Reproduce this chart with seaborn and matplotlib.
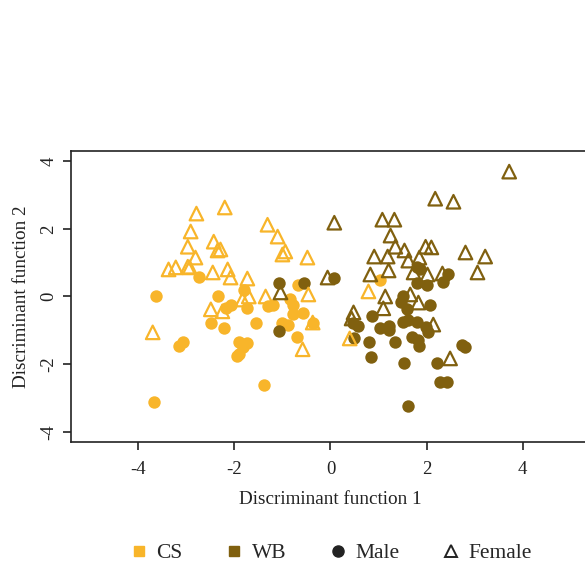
import matplotlib
matplotlib.use("Agg")
import matplotlib.pyplot as plt
from matplotlib.lines import Line2D
import seaborn as sns
import pandas as pd

# Discriminant scores
cs_male_x = [-2.74, -3.64, -2.35, -1.81, -2.08, -2.18, -1.73, -1.29, -1.19, -0.85,
             -0.79, -0.67, -0.58, -2.49, -2.22, -1.56, -1.00, -0.89, -0.77, -0.69,
             -0.37, -3.16, -3.06, -1.91, -1.73, -1.83, -1.91, -1.95, -1.39, -3.68, 1.04]
cs_male_y = [0.59, 0.0, 0.0, 0.18, -0.24, -0.35, -0.35, -0.29, -0.24, -0.06,
             -0.24, 0.35, -0.50, -0.77, -0.94, -0.77, -0.77, -0.83, -0.53, -1.21,
             -0.77, -1.47, -1.33, -1.33, -1.36, -1.50, -1.71, -1.77, -2.63, -3.13, 0.50]

cs_female_x = [-2.79, -2.20, -1.31, -2.91, -1.10, -2.43, -2.97, -2.35, -2.29, -2.81,
               -1.00, -0.94, -0.48, -3.37, -3.22, -2.97, -2.93, -2.45, -2.14, -2.08,
               -1.73, -1.83, -1.35, -0.46, -2.49, -2.25, -3.70, -0.58, -0.37, -1.70,
               0.79, 0.40]
cs_female_y = [2.45, 2.63, 2.12, 1.92, 1.77, 1.62, 1.47, 1.36, 1.39, 1.15,
               1.24, 1.33, 1.15, 0.80, 0.86, 0.88, 0.86, 0.71, 0.80, 0.56,
               0.53, -0.09, 0.0, 0.06, -0.38, -0.44, -1.06, -1.56, -0.77, 0.0,
               0.15, -1.24]

wb_male_x = [0.08, -1.08, -0.56, -1.08, 1.81, 1.87, 2.45, 2.35, 1.81, 2.00,
             1.50, 1.46, 2.08, 1.60, 0.87, 0.58, 0.46, 1.04, 1.21, 1.21,
             1.52, 1.62, 1.81, 1.98, 2.02, 0.48, 0.81, 1.35, 1.70, 1.83,
             1.85, 0.85, 1.54, 2.22, 2.74, 2.81, 2.29, 2.43, 1.62]
wb_male_y = [0.56, 0.41, 0.41, -1.03, 0.86, 0.80, 0.65, 0.44, 0.41, 0.35,
             0.0, -0.15, -0.24, -0.38, -0.59, -0.88, -0.77, -0.94, -0.88, -1.00,
             -0.74, -0.68, -0.74, -0.91, -1.06, -1.24, -1.33, -1.33, -1.21, -1.30,
             -1.47, -1.80, -1.98, -1.98, -1.42, -1.50, -2.54, -2.54, -3.24]

wb_female_x = [3.72, 2.18, 2.56, 0.08, 1.08, 1.33, 1.25, 1.35, 1.54, 1.98,
               2.10, 2.81, 3.22, 0.91, 1.19, 1.62, 1.85, 0.83, 1.21, -0.06,
               3.06, 1.73, 2.02, 2.33, 1.14, 1.66, 1.83, 1.10, 0.48, 0.44,
               2.14, 2.49, -1.04]
wb_female_y = [3.69, 2.89, 2.80, 2.18, 2.27, 2.27, 1.80, 1.47, 1.36, 1.47,
               1.45, 1.30, 1.18, 1.18, 1.18, 1.06, 1.15, 0.65, 0.77, 0.56,
               0.71, 0.71, 0.65, 0.68, 0.0, 0.06, -0.18, -0.35, -0.47, -0.65,
               -0.83, -1.83, 0.12]

group_colors = {"CS": "#F8B52A", "WB": "#80600F"}

frames = []
for grp, sex, xs, ys in [("CS", "Male", cs_male_x, cs_male_y),
                         ("CS", "Female", cs_female_x, cs_female_y),
                         ("WB", "Male", wb_male_x, wb_male_y),
                         ("WB", "Female", wb_female_x, wb_female_y)]:
    frames.append(pd.DataFrame({"DF1": xs, "DF2": ys, "Group": grp, "Sex": sex}))
df = pd.concat(frames, ignore_index=True)

sns.set_style("ticks")
plt.rcParams["font.family"] = ["Liberation Serif", "DejaVu Serif"]

fig = plt.figure(figsize=(5.85, 5.64), dpi=100)
ax = fig.add_axes([0.1214, 0.2163, 0.887, 0.5160])

for grp in ["CS", "WB"]:
    col = group_colors[grp]
    sub = df[(df["Group"] == grp) & (df["Sex"] == "Male")]
    sns.scatterplot(data=sub, x="DF1", y="DF2", ax=ax, color=col, marker="o",
                    s=80, linewidth=0, zorder=2)
    sub = df[(df["Group"] == grp) & (df["Sex"] == "Female")]
    sns.scatterplot(data=sub, x="DF1", y="DF2", ax=ax, color=col, marker="^",
                    s=95, facecolor="none", edgecolor=col, linewidth=1.6, zorder=3)

ax.set_xlim(-5.4, 5.4)
ax.set_ylim(-4.3, 4.3)
ax.set_xticks([-4, -2, 0, 2, 4])
ax.set_yticks([-4, -2, 0, 2, 4])
ax.set_xticklabels(["-4", "-2", "0", "2", "4"])
ax.set_yticklabels(["-4", "-2", "0", "2", "4"], rotation=90, va="center")
ax.tick_params(axis="both", direction="out", length=6, width=1.2,
               labelsize=13.5, colors="#222222", pad=4)
ax.tick_params(axis="x", pad=8)
for side in ["left", "bottom", "top", "right"]:
    ax.spines[side].set_linewidth(1.2)
    ax.spines[side].set_color("#222222")
ax.set_xlabel("Discriminant function 1", fontsize=13.8, color="#222222", labelpad=9)
ax.set_ylabel("Discriminant function 2", fontsize=13.8, color="#222222", labelpad=7)

handles = [
    Line2D([], [], marker="s", linestyle="none", color=group_colors["CS"], markersize=7),
    Line2D([], [], marker="s", linestyle="none", color=group_colors["WB"], markersize=7),
    Line2D([], [], marker="o", linestyle="none", color="#222222", markersize=8),
    Line2D([], [], marker="^", linestyle="none", markerfacecolor="none",
           markeredgecolor="#222222", markeredgewidth=1.4, markersize=9),
]
fig.legend(handles, ["CS", "WB", "Male", "Female"], loc="center",
           bbox_to_anchor=(0.566, 0.019), ncol=4, frameon=False, fontsize=15.5,
           handletextpad=0.4, columnspacing=2.0, handlelength=0.8)

fig.savefig("out.png", dpi=100)
